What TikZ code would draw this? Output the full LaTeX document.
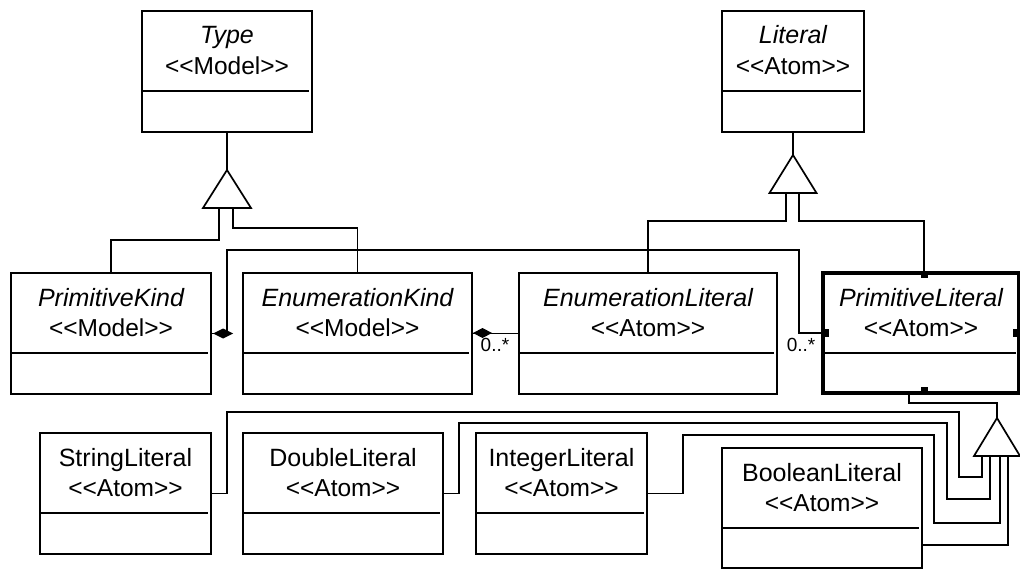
\documentclass[tikz,border=0pt]{standalone}
\usepackage{fontspec}
\setmainfont{Liberation Sans}
\usetikzlibrary{calc}
% stereotype text, with the ligature between the angle brackets broken
\newcommand{\umlstereo}[1]{<{}<#1>{}>}
\begin{document}
\begin{tikzpicture}[x=1pt,y=-1pt,
  classbox/.style={draw, line width=1.7pt, inner sep=0pt, outer sep=0pt,
    anchor=north west, minimum height=121pt},
  selbox/.style={classbox, line width=3.5pt, minimum height=120pt},
  conn/.style={line width=1.7pt},
  absname/.style={anchor=base, inner sep=0pt, font=\fontsize{25}{26}\selectfont\itshape},
  concname/.style={anchor=base, inner sep=0pt, font=\fontsize{25}{26}\selectfont},
  stereo/.style={anchor=base, inner sep=0pt, font=\fontsize{24.5}{26}\selectfont},
  mult/.style={anchor=base, inner sep=0pt, font=\fontsize{19}{20}\selectfont},
  handle/.style={fill=black}
]
\fill[white] (0,0) rectangle (1020,572);
\useasboundingbox (0,0) rectangle (1020,572);

% ---- class boxes ----
\node[classbox, minimum width=170pt] (Type) at (142,11) {};
\node[classbox, minimum width=142pt] (Literal) at (722,11) {};
\node[classbox, minimum width=200pt] (PK) at (11,273) {};
\node[classbox, minimum width=229pt] (EK) at (243,273) {};
\node[classbox, minimum width=258pt] (EL) at (519,273) {};
\node[selbox, minimum width=196pt] (PL) at (823,273) {};
\node[classbox, minimum width=171pt] (SL) at (40,433) {};
\node[classbox, minimum width=200pt] (DL) at (243,433) {};
\node[classbox, minimum width=171pt] (IL) at (476,433) {};
\node[classbox, minimum width=200pt, minimum height=120pt] (BL) at (722,448) {};

% ---- compartments and labels ----
\foreach \n/\st/\t/\s in {Type/absname/Type/Model, Literal/absname/Literal/Atom,
    PK/absname/PrimitiveKind/Model, EK/absname/EnumerationKind/Model,
    EL/absname/EnumerationLiteral/Atom, PL/absname/PrimitiveLiteral/Atom,
    SL/concname/StringLiteral/Atom, DL/concname/DoubleLiteral/Atom,
    IL/concname/IntegerLiteral/Atom, BL/concname/BooleanLiteral/Atom}{
  \draw[conn] ([yshift=-80pt]\n.north west) -- ([yshift=-80pt,xshift=-3pt]\n.north east);
  \node[\st] (\n-name) at ([yshift=-33pt]\n.north) {\t};
  \node[stereo] (\n-stereo) at ([yshift=-63.5pt]\n.north) {\umlstereo{\s}};
}

% ---- selection handles on PrimitiveLiteral ----
\fill[handle] ($(PL.north)+(0,-1)$) rectangle ++(7,6);
\fill[handle] ($(PL.south)+(0,-6)$) rectangle ++(7,6);
\fill[handle] ($(PL.west)+(0,-4)$) rectangle ++(6,8);
\fill[handle] ($(PL.east)+(-6,-4)$) rectangle ++(6,8);

% ---- generalization triangles ----
\coordinate (typeApex) at (227,170);
\coordinate (typeBaseL) at (219,208);
\coordinate (typeBaseR) at (233,208);
\coordinate (litApex) at (793,155);
\coordinate (litBaseL) at (786,193);
\coordinate (litBaseR) at (799,193);
\coordinate (primApex) at (997,418);
\coordinate (primBase1) at (982,456);
\coordinate (primBase2) at (990,456);
\coordinate (primBase3) at (1000,456);
\coordinate (primBase4) at (1008,456);

\draw[conn] (Type.south) -- (typeApex);
\draw[conn] (PK.north) |- (219,240) -- (typeBaseL);
\draw[conn] (EK.north) |- (233,228) -- (typeBaseR);
\draw[conn, fill=white] (typeApex) -- ++(-24,38) -- ++(48,0) -- cycle;

\draw[conn] (Literal.south) -- (litApex);
\draw[conn] (EL.north) |- (786,221) -- (litBaseL);
\draw[conn] ([xshift=3pt]PL.north) |- (799,221) -- (litBaseR);
\draw[conn, fill=white] (litApex) -- ++(-23.5,38) -- ++(47,0) -- cycle;

\draw[conn] ([xshift=-12pt]PL.south) |- (997,403) -- (primApex);
\draw[conn] (SL.east) -| (227,412) -| (959,477) -| (primBase1);
\draw[conn] (DL.east) -| (459,423) -| (947,499) -| (primBase2);
\draw[conn] (IL.east) -| (683,435) -| (934,523) -| (primBase3);
\draw[conn] ([yshift=-37pt]BL.east) -| (primBase4);
\draw[conn, fill=white] (primApex) -- ++(-23,38) -- ++(46,0) -- cycle;

% ---- aggregations ----
\draw[conn] (PK.east) -| (227,250) -| (799,333) -- (PL.west);
\fill ($(PK.east)+(2,0)$) -- ++(10,-5) -- ++(10,5) -- ++(-10,5) -- cycle;
\draw[conn] (EK.east) -- (EL.west);
\fill ($(EK.east)+(1,-0.5)$) -- ++(9.5,-5) -- ++(9.5,5) -- ++(-9.5,5) -- cycle;

\node[mult] (mEL) at (495,351) {0..*};
\node[mult] (mPL) at (801,351) {0..*};
\end{tikzpicture}
\end{document}
